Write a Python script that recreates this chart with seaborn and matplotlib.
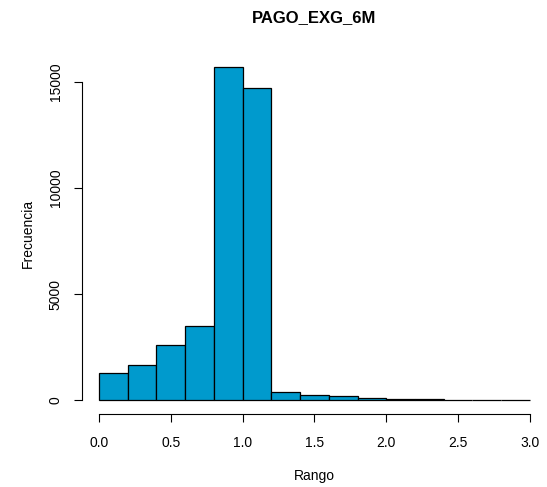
import matplotlib
matplotlib.use("Agg")
import matplotlib.pyplot as plt
import seaborn as sns
import numpy as np

bin_edges = [0.0, 0.2, 0.4, 0.6, 0.8, 1.0, 1.2, 1.4, 1.6, 1.8, 2.0, 2.2, 2.4, 2.6, 2.8, 3.0]
counts = [1290, 1685, 2594, 3490, 15720, 14700, 377, 236, 190, 126, 80, 65, 40, 30, 25]
x_ticks = [0.0, 0.5, 1.0, 1.5, 2.0, 2.5, 3.0]
x_tick_labels = ["0.0", "0.5", "1.0", "1.5", "2.0", "2.5", "3.0"]
y_ticks = [0, 5000, 10000, 15000]
y_tick_labels = ["0", "5000", "10000", "15000"]
title = "PAGO_EXG_6M"
xlabel = "Rango"
ylabel = "Frecuencia"

sns.set_style("white")
plt.rcParams['font.family'] = ['Liberation Sans', 'DejaVu Sans']
plt.rcParams['text.color'] = 'black'
plt.rcParams['axes.labelcolor'] = 'black'

W, H = 547, 487
fig = plt.figure(figsize=(W / 100, H / 100), dpi=100)
ymax_c = max(counts)
ylo, yhi = -0.04 * ymax_c, ymax_c * 1.04
left_px, right_px = 81.7, 547.2
top_px, bot_px = 53.4, 413.8
ax = fig.add_axes([left_px / W, 1 - bot_px / H, (right_px - left_px) / W, (bot_px - top_px) / H])

centers = [(bin_edges[i] + bin_edges[i + 1]) / 2 for i in range(len(counts))]
sns.histplot(x=centers, weights=counts, bins=bin_edges, ax=ax,
             color="#009ACD", edgecolor="black", linewidth=0.9, alpha=1.0)

ax.set_xlim(-0.12, 3.12)
ax.set_ylim(ylo, yhi)
ax.set_xticks(x_ticks)
ax.set_xticklabels(x_tick_labels)
ax.set_yticks(y_ticks)
ax.set_yticklabels(y_tick_labels, rotation=90, va="center")
for s in ["top", "right"]:
    ax.spines[s].set_visible(False)
ax.spines["left"].set_bounds(0, 15000)
ax.spines["bottom"].set_bounds(0, 3.0)
for s in ["left", "bottom"]:
    ax.spines[s].set_color("black")
    ax.spines[s].set_linewidth(0.8)
ax.tick_params(axis="both", direction="out", length=5.8, width=0.8, colors="black",
               labelcolor="black", labelsize=10, left=True, bottom=True)
ax.tick_params(axis="x", pad=10)
ax.tick_params(axis="y", pad=8)
ax.set_xlabel("")
ax.set_ylabel("")
fig.text((left_px + right_px) / 2 / W, 1 - 476 / H, xlabel, ha="center", va="center",
         fontsize=10, color="black")
fig.text(28 / W, 1 - ((top_px + bot_px) / 2) / H, ylabel, ha="center", va="center",
         rotation=90, fontsize=10, color="black")
fig.text((left_px + right_px) / 2 / W, 1 - 18 / H, title, ha="center", va="center",
         fontsize=12, fontweight="bold", color="black")
ax.grid(False)
fig.savefig("out.png", dpi=100)
